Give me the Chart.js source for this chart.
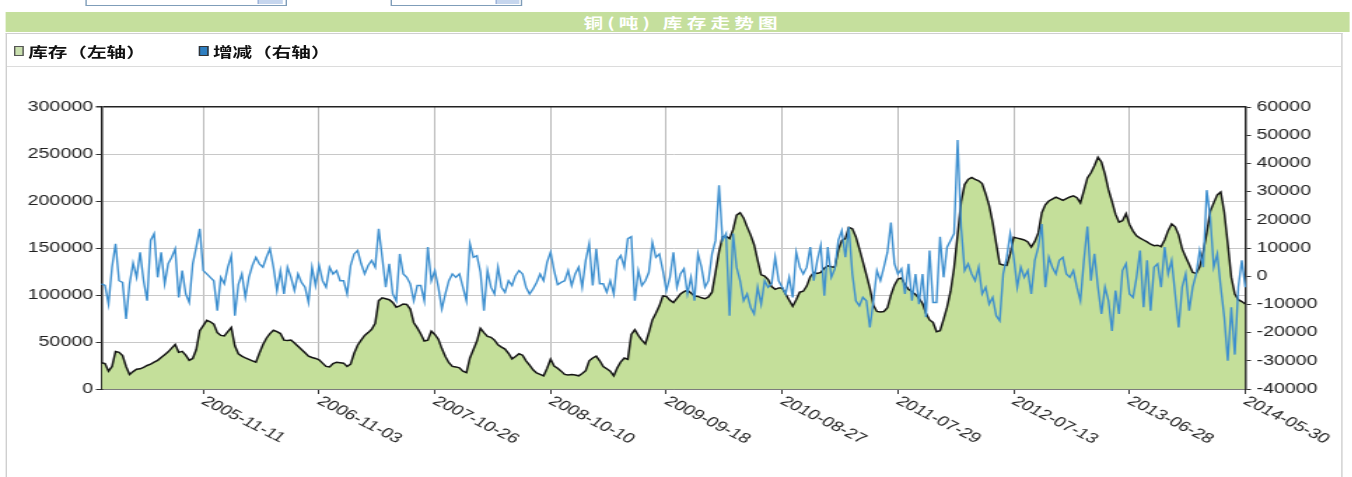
<!DOCTYPE html>
<html>
<head>
<meta charset="utf-8">
<script src="https://cdn.jsdelivr.net/npm/chart.js@4.4.1/dist/chart.umd.min.js"></script>
<style>
  html, body { margin: 0; padding: 0; background: #fff; overflow: hidden; }
  /* the reference is a horizontally stretched screenshot, so draw narrow and stretch */
  #page { position: absolute; left: 0; top: 0; width: 966px; height: 477px;
          transform: scaleX(1.4); transform-origin: 0 0;
          font-family: "Noto Sans CJK SC", sans-serif; }
  .inp { position: absolute; top: -12px; height: 16px; border: 1px solid #7f9db9; background: #fff; }
  .btn { position: absolute; top: -11px; height: 15px; background: #c6d6ee; border-left: 1px solid #9fb5da; }
  #titlebar { position: absolute; left: 3.6px; top: 12px; width: 960px; height: 20px;
              background: #c5df9d; color: #fff; font-weight: bold; font-size: 14px;
              line-height: 20px; text-align: center; letter-spacing: 3px; text-indent: 8px; }
  #box { position: absolute; left: 3.6px; top: 33px; width: 953px; height: 460px;
         border: 1px solid #cfcfcf; border-bottom: none; }
  #legend { position: absolute; left: 0; top: 0; width: 100%; height: 32px; border-bottom: 1px solid #dcdcdc; }
  .sw { position: absolute; top: 12px; width: 5.5px; height: 8px; }
  .lt { position: absolute; top: 8px; height: 18px; line-height: 18px; font-size: 14px; font-weight: bold; color: #111; }
  #c { position: absolute; left: 0; top: 67px; }
</style>
</head>
<body>
<div id="page">
  <div class="inp" style="left:60.7px;width:142px;"></div>
  <div class="btn" style="left:184.3px;width:17px;"></div>
  <div class="inp" style="left:278.6px;width:92px;"></div>
  <div class="btn" style="left:353.6px;width:16px;"></div>

  <div id="titlebar">铜(吨) 库存走势图</div>
  <div id="box">
    <div id="legend">
      <div class="sw" style="left:5px;background:#c9dfae;border:1px solid #555;"></div>
      <div class="lt" style="left:15.5px;">库存（左轴）</div>
      <div class="sw" style="left:137px;background:#2f7fc1;border:1px solid #333;"></div>
      <div class="lt" style="left:147.5px;">增减（右轴）</div>
    </div>
  </div>
  <canvas id="c" width="966" height="410"></canvas>
</div>

<script>
// ---------------- DATA (weekly, sampled every ~2 weeks) ----------------
// x-axis tick labels and the point index where each one sits
const tickIndex = [29, 62, 95, 128, 161, 194, 227, 260, 293, 326];
const tickText  = ['2005-11-11', '2006-11-03', '2007-10-26', '2008-10-10', '2009-09-18',
                   '2010-08-27', '2011-07-29', '2012-07-13', '2013-06-28', '2014-05-30'];

// 库存 (left axis, tonnes)
const stock = [
  28000,27000,19000,24000,40000,39000,35500,24000,15500,18500,
  21000,21500,23000,25000,26500,28500,30500,33500,36500,39500,
  43500,47500,39000,40000,36000,30500,32500,42000,62000,67500,
  73000,71500,69000,60000,57000,56500,61000,65400,46000,37500,
  35000,33000,31500,30000,28500,38000,47000,54000,59000,62500,
  61000,59000,52000,51500,52000,49000,45500,42000,38500,35000,
  33500,32500,31000,27500,24000,23500,27000,28500,28000,27500,
  24000,26500,38000,46500,52000,57000,60000,63500,70000,94000,
  97000,96000,95000,92000,87000,88500,90500,90000,85000,70500,
  65000,58500,51000,52000,61500,58000,53000,43000,34500,28000,
  24000,23500,22500,19000,17500,33000,42000,51000,64500,60000,
  56000,55000,52000,47000,44500,42500,38000,32000,34500,37500,
  36000,30000,25500,20500,17000,15500,14000,22000,31700,24500,
  22000,19000,15500,15000,15300,14800,14000,16500,19500,30000,
  33000,35000,30000,24000,21500,19000,14000,22500,29000,33000,
  31500,58000,63000,57000,52000,48000,60000,73500,80500,88500,
  99000,98500,94500,92000,96500,101000,103500,105000,102000,99000,
  98500,97000,96000,98000,103000,124000,146000,162000,162500,160000,
  169500,185000,187500,182000,172500,164000,153500,137000,121500,120000,
  116500,109000,106000,107500,107500,101000,94500,88000,95000,103000,
  104000,109500,119500,124000,123000,124000,128500,131000,130000,129500,
  148000,158000,160000,172000,170500,162000,149000,135500,121500,107000,
  89000,82500,82000,82500,86500,100000,110500,117000,118000,111000,
  106000,103500,100500,96500,91000,80500,73500,70800,61000,62000,
  74000,87000,104000,129000,164000,199000,217500,223000,225000,223000,
  221500,218500,207500,195000,177000,155000,133000,132000,131500,144000,
  161500,160500,159500,158500,156500,151000,157000,166000,187500,196000,
  200000,202000,204000,202500,200700,202500,204300,205500,203500,198000,
  211000,224500,230000,237500,246500,241500,228500,212000,199500,186000,
  177500,179000,186500,175000,168000,163000,160500,158500,156500,154000,
  152500,153000,151500,158500,168500,175500,172500,164000,149000,140500,
  132500,124000,123000,130000,146000,166000,189000,198000,206500,209500,
  188000,154500,119000,101000,95000,93000,90400
];

// 增减 (right axis, tonnes)
const change = [
  -2700,-3300,-9900,3200,11500,-1600,-2200,-15200,-2700,4700,
  -400,8500,-1600,-8700,12700,15100,-400,8500,-2700,4400,
  6700,9700,-7500,2000,-6300,-9300,4400,10300,16800,2000,
  800,-400,-1600,-12200,-400,-2700,3200,7300,-14000,-3000,
  800,-7500,-400,3800,6700,4400,3200,6700,9700,3200,
  -5100,2000,-6300,3200,-400,-5100,800,-2200,-3900,-9300,
  3200,-3300,3800,-1600,-3900,3200,800,2000,-1600,-1600,
  -6300,3800,7900,9100,4400,800,3800,5600,3200,16800,
  6700,-3900,4400,-6300,-8700,7900,800,-400,-2700,-8700,
  -3300,-3300,-8700,10300,-1600,2000,-3900,-11600,-6300,-1600,
  800,-400,800,-3900,-8700,11500,6700,7300,1400,-12200,
  2000,-3900,-6300,3200,-3900,-5700,-1600,-3300,200,2000,
  800,-3900,-6300,-4500,-2200,800,-1600,5000,8500,2000,
  -3000,-2200,-1600,2000,-3300,800,3200,-3900,5600,11500,
  -3300,9700,-2700,-2700,-5700,-1600,-6300,5600,7300,3200,
  13300,14000,-8700,2000,-3300,-1600,1400,12000,6700,7900,
  2000,-5100,-400,8500,-3900,800,2600,-6300,-400,-8700,
  7900,3200,-3900,-1600,7900,12700,32200,12700,15100,-14000,
  15100,3200,-1600,-8700,-6300,-11000,-13400,-3900,-9900,-1600,
  -3900,-2700,6700,-1600,-3900,-6300,-400,-7500,8500,3200,
  800,3200,10300,-1600,5600,10900,-6900,10300,-400,2600,
  12700,16200,6700,17400,800,-8700,-10500,-7500,-8700,-18200,
  -8700,2000,-1600,3200,8500,19000,4400,800,2600,-6300,
  4400,-8700,800,-9900,800,-14500,9100,-9300,-9300,14000,
  -400,10300,12700,15100,48300,17400,2000,4400,800,-1600,
  3200,-6300,-3900,-9900,-7500,-14000,-15800,800,6700,15100,
  6700,-3900,3200,-400,2000,-6300,5600,10300,18500,-3900,
  6700,3200,800,5600,6700,800,-400,2000,-3900,-8700,
  5600,17600,-1600,7900,-3900,-13400,-3900,-8700,-19400,-5100,
  -13400,2000,4400,-6300,-7500,-400,9100,-11000,5600,-12200,
  3200,4400,-3900,10300,800,5600,-6300,-18200,-3900,800,
  -12200,-3900,800,9100,3200,30500,21000,3200,7900,-3900,
  -14500,-30000,-11000,-27800,-3900,5600,-3900
];

const AXIS_FONT = { family: '"Liberation Sans", Arial, sans-serif', size: 14 };

// slanted date labels hanging down-right from each x tick
const xLabels = {
  id: 'xLabels',
  afterDraw(chart) {
    const s = chart.scales.x, c = chart.ctx;
    c.save();
    c.font = AXIS_FONT.size + 'px ' + AXIS_FONT.family;
    c.fillStyle = '#222';
    c.textAlign = 'left';
    c.textBaseline = 'top';
    s.ticks.forEach(t => {
      const k = tickIndex.indexOf(t.value);
      if (k < 0) return;
      c.save();
      c.translate(s.getPixelForValue(t.value) + 4, chart.chartArea.bottom + 5);
      c.rotate(35 * Math.PI / 180);
      c.fillText(tickText[k], 0, 0);
      c.restore();
    });
    c.restore();
  }
};

const ctx = document.getElementById('c').getContext('2d');
new Chart(ctx, {
  type: 'line',
  data: {
    labels: stock.map((v, i) => i),
    datasets: [
      { label: '增减（右轴）', data: change, yAxisID: 'y1', order: 0,
        borderColor: '#3d8fcf', borderWidth: 1.4, pointRadius: 0, fill: false },
      { label: '库存（左轴）', data: stock, yAxisID: 'y', order: 1,
        borderColor: '#151515', borderWidth: 1.5, backgroundColor: '#c4df9a',
        pointRadius: 0, fill: 'origin' }
    ]
  },
  options: {
    responsive: false,
    animation: false,
    layout: { padding: { top: 40, left: 0, right: 0, bottom: 0 } },
    plugins: { legend: { display: false }, tooltip: { enabled: false } },
    scales: {
      x: {
        type: 'category',
        offset: false,
        afterBuildTicks: s => { s.ticks = tickIndex.map(v => ({ value: v })); },
        afterFit: s => { s.height = 88; },
        ticks: { display: false },
        grid: { color: '#b9b9b9', lineWidth: 1, tickLength: 5, tickColor: '#333', offset: false },
        border: { color: '#333', width: 1.5 }
      },
      y: {
        position: 'left',
        min: 0, max: 300000,
        afterFit: s => { s.width = 72.5; },
        ticks: { stepSize: 50000, padding: 2, color: '#222', font: AXIS_FONT, callback: v => String(v) },
        grid: {
          color: c => c.tick && c.tick.value === 300000 ? '#222' : '#c8c8c8',
          lineWidth: c => c.tick && c.tick.value === 300000 ? 1.5 : 1,
          tickColor: '#333', tickLength: 4
        },
        border: { color: '#222', width: 1.5 }
      },
      y1: {
        position: 'right',
        min: -40000, max: 60000,
        afterFit: s => { s.width = 76.5; },
        ticks: { stepSize: 10000, padding: 4, color: '#222', font: AXIS_FONT, callback: v => String(v) },
        grid: { drawOnChartArea: false, tickColor: '#333', tickLength: 4 },
        border: { color: '#222', width: 1.5 }
      }
    }
  },
  plugins: [xLabels]
});
</script>
</body>
</html>
